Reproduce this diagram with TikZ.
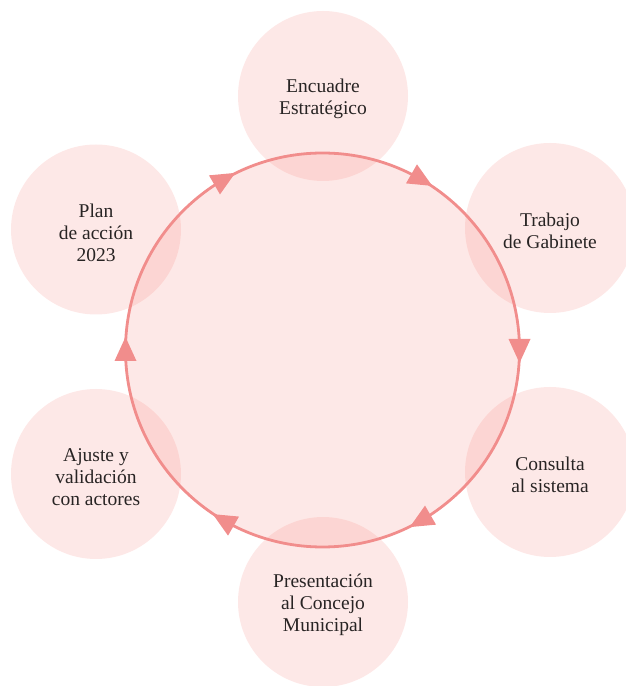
\documentclass[tikz,border=0pt]{standalone}
\usepackage{fontspec}
\setmainfont{Liberation Serif}
\definecolor{ringc}{RGB}{241,141,140}
\definecolor{fillc}{RGB}{246,120,112}
\definecolor{txtc}{RGB}{40,36,36}
\begin{document}
\begin{tikzpicture}[x=1pt,y=1pt,
  stage/.style={circle,minimum size=170pt,inner sep=0pt,fill=fillc,fill opacity=0.17},
  stagetext/.style={text opacity=1,text=txtc,align=center,yshift=-3pt,
    font=\fontsize{19.5}{22}\selectfont},
  hub/.style={circle,minimum size=394pt,inner sep=0pt,fill=fillc,fill opacity=0.17},
  ring/.style={draw=ringc,line width=2.8pt},
  tipc/.style={fill=ringc}]
\useasboundingbox (0,0) rectangle (626,686);
\clip (0,0) rectangle (626,686);
\node[hub] (main) at (322.5,336) {};
\node[stage,label={[stagetext]center:Encuadre\\Estratégico}] (s1) at (323,590) {};
\node[stage,label={[stagetext]center:Trabajo\\de Gabinete}] (s2) at (550,458) {};
\node[stage,label={[stagetext]center:Consulta\\al sistema}] (s3) at (550,214) {};
\node[stage,label={[stagetext]center:Presentación\\al Concejo\\Municipal}] (s4) at (323,84) {};
\node[stage,label={[stagetext]center:Ajuste y\\validación\\con actores}] (s5) at (96,212) {};
\node[stage,label={[stagetext]center:Plan\\de acción\\2023}] (s6) at (96,456.5) {};
\draw[ring] (main.center) circle (197);
\foreach \a in {60,0,-60,-120,180,120}{
  \begin{scope}[shift={(main.center)},rotate=\a]
    \fill[tipc] (197,-13) -- (208,11) -- (186,11) -- cycle;
  \end{scope}
}
\end{tikzpicture}
\end{document}
